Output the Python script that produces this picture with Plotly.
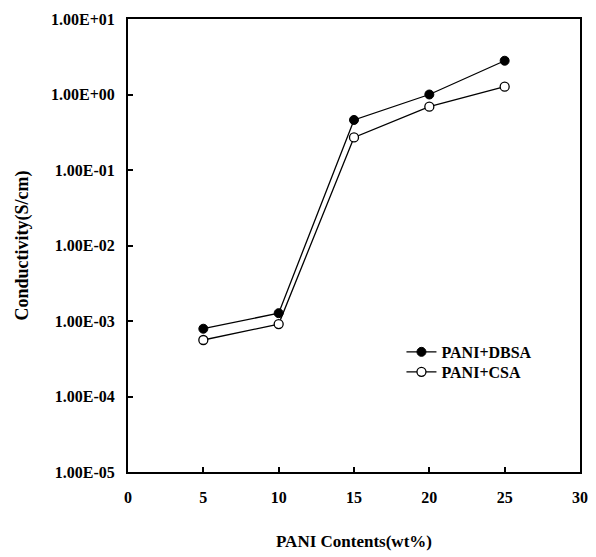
import plotly.graph_objects as go

x_vals = [5, 10, 15, 20, 25]
dbsa = [7.9e-4, 1.27e-3, 0.46, 1.0, 2.8]
csa = [5.6e-4, 9.1e-4, 0.27, 0.69, 1.27]
y_tickvals = [1e-5, 1e-4, 1e-3, 1e-2, 1e-1, 1e0, 1e1]
y_ticktext = ["1.00E-05", "1.00E-04", "1.00E-03", "1.00E-02", "1.00E-01", "1.00E+00", "1.00E+01"]
x_tickvals = [0, 5, 10, 15, 20, 25, 30]

font = dict(family="Liberation Serif", size=16, color="black")
leg_font = dict(family="Liberation Serif", size=16, color="black")

fig = go.Figure()
fig.add_trace(go.Scatter(x=x_vals, y=dbsa, name="<b>PANI+DBSA</b>", mode="lines+markers",
                         line=dict(color="black", width=1.3), legend="legend",
                         marker=dict(symbol="circle", size=9, color="black", line=dict(color="black", width=1))))
fig.add_trace(go.Scatter(x=x_vals, y=csa, name="<b>PANI+CSA</b>", mode="lines+markers",
                         line=dict(color="black", width=1.3), legend="legend2",
                         marker=dict(symbol="circle", size=9, color="white", line=dict(color="black", width=1.3))))

fig.update_layout(
    width=588, height=549,
    margin=dict(l=120, r=16, t=11, b=85, autoexpand=False),
    paper_bgcolor="white", plot_bgcolor="white",
    font=font,
    showlegend=True,
    legend=dict(x=0.605, y=0.265, xanchor="left", yanchor="middle", bgcolor="rgba(0,0,0,0)",
                font=leg_font, itemwidth=30, borderwidth=0),
    legend2=dict(x=0.605, y=0.221, xanchor="left", yanchor="middle", bgcolor="rgba(0,0,0,0)",
                 font=leg_font, itemwidth=30, borderwidth=0),
    annotations=[dict(text="<b>Conductivity(S/cm)</b>", xref="paper", yref="paper",
                      x=0, y=0.5, xanchor="center", yanchor="middle", xshift=-106,
                      textangle=-90, showarrow=False,
                      font=dict(family="Liberation Serif", size=18, color="black"))],
)
fig.update_xaxes(range=[0, 30], tickvals=x_tickvals, ticktext=[f"<b>{v}</b>" for v in x_tickvals],
                 showline=True, linecolor="black", linewidth=2, mirror=True,
                 ticks="inside", ticklen=5, tickwidth=1.5, tickcolor="black",
                 showgrid=False, zeroline=False, ticklabelstandoff=10, automargin=False,
                 title=dict(text="<b>PANI Contents(wt%)</b>", standoff=30, font=dict(size=17)))
fig.update_yaxes(type="log", range=[-5, 1], tickvals=y_tickvals, ticktext=[f"<b>{t}</b>" for t in y_ticktext],
                 showline=True, linecolor="black", linewidth=2, mirror=True,
                 ticks="inside", ticklen=5, tickwidth=1.5, tickcolor="black",
                 showgrid=False, zeroline=False, ticklabelstandoff=8, automargin=False)

fig.write_html("out.html")
